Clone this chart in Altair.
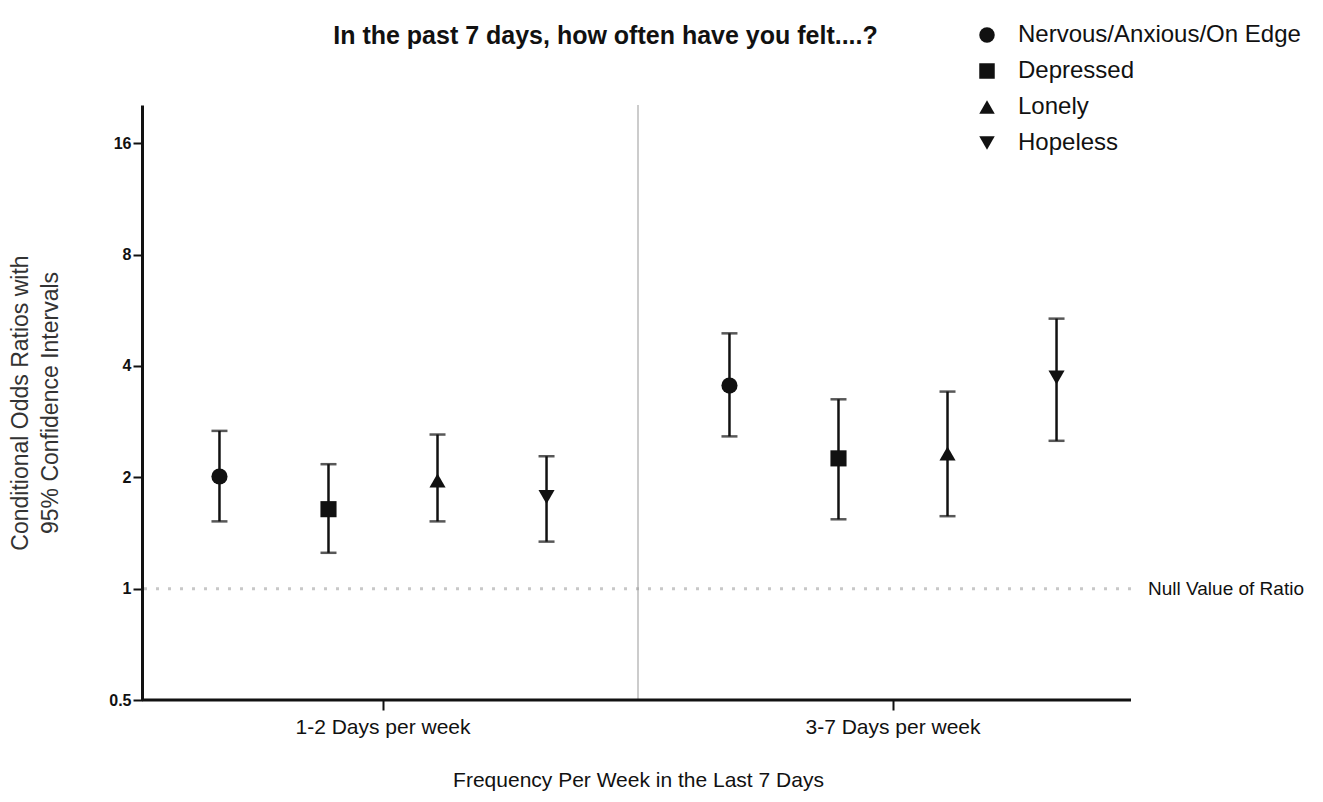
import altair as alt
import pandas as pd

groups = ["1-2 Days per week", "3-7 Days per week"]
series = ["Nervous/Anxious/On Edge", "Depressed", "Lonely", "Hopeless"]
shapes = ["circle", "square", "triangle-up", "triangle-down"]

# odds ratio estimates and 95% CI, per group (in series order)
or_12 = [2.01, 1.64, 1.96, 1.77]
lo_12 = [1.52, 1.25, 1.52, 1.34]
hi_12 = [2.67, 2.17, 2.61, 2.28]

or_37 = [3.54, 2.25, 2.32, 3.72]
lo_37 = [2.58, 1.54, 1.57, 2.51]
hi_37 = [4.90, 3.25, 3.41, 5.37]

rows = []
for g, ors, los, his in [(groups[0], or_12, lo_12, hi_12), (groups[1], or_37, lo_37, hi_37)]:
    for s, o, l, h in zip(series, ors, los, his):
        rows.append({"group": g, "series": s, "or": o, "lo": l, "hi": h})
df = pd.DataFrame(rows)

FONT = "Liberation Sans"
W, H = 989, 595

xscale = alt.Scale(domain=groups, paddingInner=0, paddingOuter=0, range=[-14, 1006])
xenc = alt.X("group:N", sort=groups, scale=xscale,
             axis=alt.Axis(title="Frequency Per Week in the Last 7 Days", labelAngle=0,
                           labelAlign="center", labelBaseline="top",
                           labelFontSize=21, labelColor="#111", labelPadding=6,
                           titleFontSize=21, titleFontWeight="normal", titleColor="#111",
                           titlePadding=32, tickSize=10, tickWidth=2, tickColor="#111",
                           domain=False, labelFont=FONT, titleFont=FONT))
xoff = alt.XOffset("series:N", sort=series,
                   scale=alt.Scale(domain=series, paddingInner=0, paddingOuter=0.339))
yscale = alt.Scale(type="log", base=2, domain=[0.5, 20.3], nice=False)
yenc = alt.Y("or:Q", scale=yscale,
             axis=alt.Axis(title=["Conditional Odds Ratios with", "95% Confidence Intervals"],
                           values=[0.5, 1, 2, 4, 8, 16], grid=False,
                           labelFontSize=16, labelFontWeight="bold", labelColor="#111",
                           labelPadding=2, tickSize=9, tickWidth=2, tickColor="#111",
                           domainWidth=3, domainColor="#111",
                           titleFontSize=23, titleFontWeight="normal", titleColor="#333",
                           titleLineHeight=30,
                           titlePadding=46, labelFont=FONT, titleFont=FONT))

base = alt.Chart(df)

bars = base.mark_rule(color="#111", strokeWidth=2.5).encode(
    x=xenc, xOffset=xoff, y=alt.Y("lo:Q", scale=yscale), y2="hi:Q")
cap_lo = base.mark_tick(color="#111", thickness=2.5, size=16, orient="horizontal").encode(
    x=xenc, xOffset=xoff, y=alt.Y("lo:Q", scale=yscale))
cap_hi = base.mark_tick(color="#111", thickness=2.5, size=16, orient="horizontal").encode(
    x=xenc, xOffset=xoff, y=alt.Y("hi:Q", scale=yscale))
points = base.mark_point(filled=True, opacity=1, size=260, color="#111").encode(
    x=xenc, xOffset=xoff, y=yenc,
    shape=alt.Shape("series:N", sort=series,
                    scale=alt.Scale(domain=series, range=shapes),
                    legend=alt.Legend(title=None, orient="none", legendX=833, legendY=-82,
                                      labelFontSize=24, labelColor="#111", labelFont=FONT,
                                      labelLimit=0, symbolSize=240, symbolFillColor="#111",
                                      symbolStrokeColor="#111", rowPadding=12,
                                      labelOffset=19)))

divider = alt.Chart(pd.DataFrame({"group": [groups[1]]})).mark_rule(
    color="#999", strokeWidth=1).encode(
    x=alt.X("group:N", sort=groups, scale=xscale, bandPosition=0))

# x axis baseline drawn at the bottom of the y domain, spanning the plot width
baseline = alt.Chart(pd.DataFrame({"v": [0.5]})).mark_rule(
    color="#111", strokeWidth=3).encode(y=alt.Y("v:Q", scale=yscale))

null_df = pd.DataFrame({"v": [1.0], "group": [groups[1]], "label": ["Null Value of Ratio"]})
null_line = alt.Chart(null_df).mark_rule(color="#c8c8c8", strokeWidth=3,
                                         strokeDash=[3, 9]).encode(
    y=alt.Y("v:Q", scale=yscale))
null_text = alt.Chart(null_df).mark_text(align="left", baseline="middle", dx=0,
                                         fontSize=19, font=FONT, color="#111").encode(
    x=alt.X("group:N", sort=groups, scale=xscale, bandPosition=1),
    y=alt.Y("v:Q", scale=yscale), text="label:N")

chart = alt.layer(null_line, divider, baseline, bars, cap_lo, cap_hi, points, null_text).properties(
    width=W, height=H,
    background="white",
    title=alt.TitleParams("In the past 7 days, how often have you felt....?",
                          fontSize=25, fontWeight="bold", font=FONT, color="#111",
                          anchor="middle", frame="group", dx=-31, dy=26, offset=0),
    padding={"left": 134, "top": 97, "right": 184, "bottom": 94},
    autosize=alt.AutoSizeParams(type="none"),
).configure_view(stroke="transparent", strokeWidth=0)

chart.save("out.html", embed_options={"renderer": "svg", "actions": False})
